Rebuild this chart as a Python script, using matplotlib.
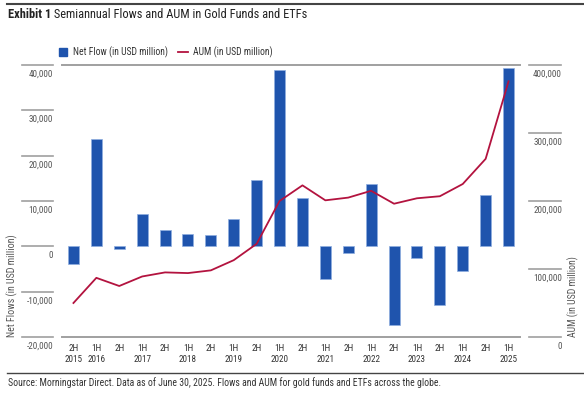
import matplotlib.pyplot as plt
import matplotlib.transforms as mtransforms
from matplotlib.lines import Line2D
import numpy as np

plt.rcParams['font.family'] = ['Roboto Condensed', 'Roboto', 'DejaVu Sans']

# data
periods = ['2H\n2015', '1H\n2016', '2H', '1H\n2017', '2H', '1H\n2018', '2H', '1H\n2019', '2H', '1H\n2020',
           '2H', '1H\n2021', '2H', '1H\n2022', '2H', '1H\n2023', '2H', '1H\n2024', '2H', '1H\n2025']
net_flow = [-4000, 23600, -600, 7100, 3500, 2800, 2600, 6100, 14600, 38800,
            10700, -7300, -1500, 13700, -17400, -2500, -12900, -5400, 11300, 39400]
aum = [50000, 87000, 75000, 89000, 95000, 94000, 98000, 113000, 137000, 200000,
       223000, 201000, 205000, 215000, 196000, 204000, 207000, 225000, 262000, 376000]
left_ticks = [40000, 30000, 20000, 10000, 0, -10000, -20000]
right_ticks = [400000, 300000, 200000, 100000, 0]

blue = '#1f54ad'
red = '#b3133f'
grey = '#a0a0a0'
txt = '#555555'

W, H = 584, 399
fig = plt.figure(figsize=(W / 100, H / 100), dpi=100)
ax = fig.add_axes([62 / W, 1 - 337 / H, 458 / W, 272 / H])
ax2 = ax.twinx()

x = np.arange(len(periods))
ax.bar(x, net_flow, width=0.48, color=blue, edgecolor='#8eaee0', linewidth=0.5, zorder=2)
ax2.plot(x, aum, color=red, lw=1.3, zorder=3)

ax.set_xlim(-0.5, len(periods) - 0.5)
ax.set_ylim(-20000, 40000)
ax2.set_ylim(0, 400000)

for a in (ax, ax2):
    for s in a.spines.values():
        s.set_visible(False)
    a.set_yticks([])
for side in ('top', 'bottom'):
    ax.spines[side].set_visible(True)
    ax.spines[side].set_color(grey)
    ax.spines[side].set_linewidth(1.4)

ax.set_xticks(x)
ax.set_xticklabels(periods, fontsize=6.6, color='#333333', linespacing=1.25)
ax.tick_params(axis='x', length=0, pad=5)

# left value rules and labels
tl = mtransforms.blended_transform_factory(fig.transFigure, ax.transData)
for v in left_ticks:
    ax.plot([22 / W, 53 / W], [v, v], transform=tl, color=grey, lw=1.2, clip_on=False)
    ax.annotate(f'{v:,}', xy=(53 / W, v), xycoords=('figure fraction', 'data'),
                xytext=(0, -6.5), textcoords='offset points', ha='right', va='center',
                fontsize=6.6, color=txt, annotation_clip=False)

tr = mtransforms.blended_transform_factory(fig.transFigure, ax2.transData)
for v in right_ticks:
    ax2.plot([529 / W, 561 / W], [v, v], transform=tr, color=grey, lw=1.2, clip_on=False)
    ax2.annotate(f'{v:,}', xy=(562 / W, v), xycoords=('figure fraction', 'data'),
                 xytext=(0, -6.5), textcoords='offset points', ha='right', va='center',
                 fontsize=6.6, color=txt, annotation_clip=False)

fig.text(12 / W, 1 - 337 / H, 'Net Flows (in USD million)', rotation=90, ha='center', va='bottom',
         fontsize=7.2, color=txt)
fig.text(573 / W, 1 - 337 / H, 'AUM (in USD million)', rotation=90, ha='center', va='bottom',
         fontsize=7, color=txt)

# legend
handles = [Line2D([], [], marker='s', ls='none', color=blue, markersize=5.5),
           Line2D([], [], color=red, lw=1.3)]
fig.legend(handles, ['Net Flow (in USD million)', 'AUM (in USD million)'], loc='center left',
           bbox_to_anchor=(58 / W, 1 - 52 / H), ncol=2, frameon=False, fontsize=6.9,
           handlelength=1.1, handletextpad=0.5, columnspacing=1.0, borderaxespad=0, borderpad=0,
           labelcolor='#333333')

# title, rules, source
fig.add_artist(Line2D([7 / W, 1], [1 - 4 / H, 1 - 4 / H], color='#444444', lw=1.5))
t1 = fig.text(8 / W, 1 - 15 / H, 'Exhibit 1', fontsize=8.9, fontweight='bold', va='center', color='#222222')
ax.annotate(' Semiannual Flows and AUM in Gold Funds and ETFs', xy=(1, 0.5), xycoords=t1,
            va='center', ha='left', fontsize=8.9, color='#222222', annotation_clip=False)
fig.add_artist(Line2D([7 / W, 1], [1 - 373 / H, 1 - 373 / H], color='#444444', lw=1.0))
fig.text(8 / W, 1 - 383 / H, 'Source: Morningstar Direct. Data as of June 30, 2025. Flows and AUM for gold funds and ETFs across the globe.',
         fontsize=7.0, va='center', color='#333333')

fig.savefig('out.png', dpi=100)
